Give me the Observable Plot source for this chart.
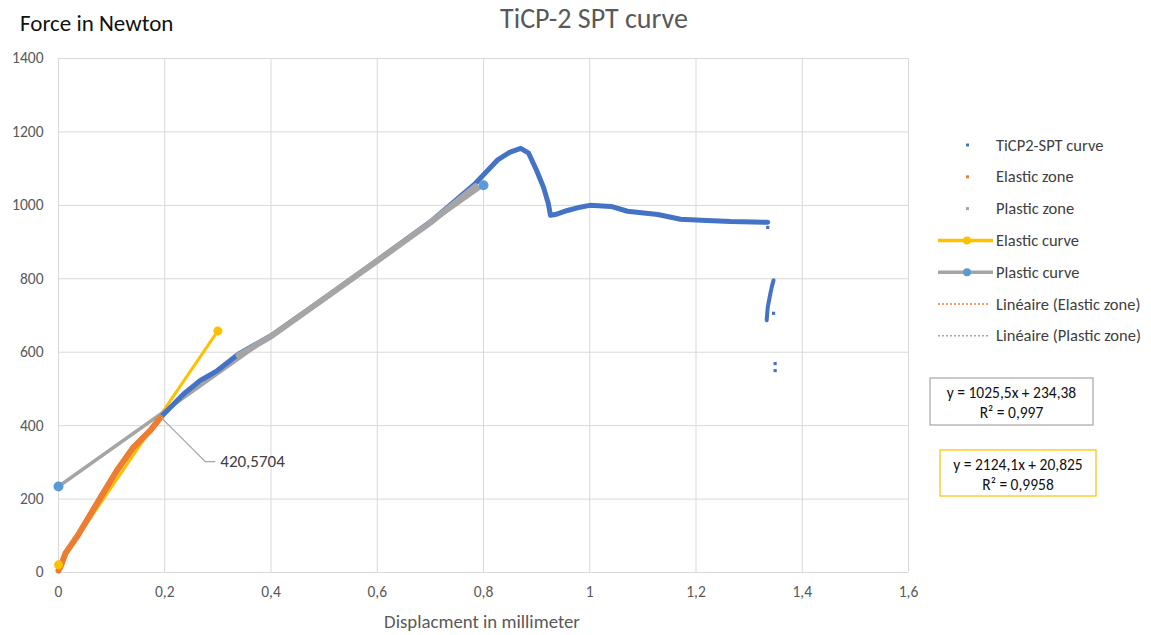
<!DOCTYPE html>
<html><head><meta charset="utf-8">
<script src="https://cdn.jsdelivr.net/npm/d3@7"></script>
<script src="https://cdn.jsdelivr.net/npm/@observablehq/plot@0.6"></script>
<style>
body{margin:0;background:#fff;}
#chart{position:relative;width:1151px;height:635px;}
</style>
</head><body><div id="chart"></div>
<script>
// ---- data ----
// TiCP2-SPT curve (full test record)
const specX = [0, 0.005, 0.013, 0.036, 0.079, 0.11, 0.141, 0.173, 0.192, 0.236, 0.267, 0.299, 0.339, 0.40, 0.50, 0.60, 0.70, 0.785, 0.826, 0.85, 0.87, 0.885, 0.90, 0.913, 0.922, 0.926, 0.935, 0.958, 0.982, 1.0, 1.04, 1.071, 1.128, 1.171, 1.22, 1.265, 1.335];
const specY = [5, 20, 52, 100, 204, 278, 341, 387, 422, 487, 523, 550, 595, 645, 746, 850, 955, 1060, 1123, 1145, 1155, 1142, 1095, 1049, 1005, 973, 975, 986, 995, 1000, 997, 984, 975, 962, 959, 956, 954];
// TiCP2-SPT after rupture
const dropX = [1.333, 1.335, 1.34, 1.343, 1.346];
const dropY = [687, 722, 760, 780, 796];
const dropDotX = [1.335, 1.346, 1.349, 1.349];
const dropDotY = [940, 706, 569, 550];
// Elastic zone subset
const elasticX = [0, 0.005, 0.013, 0.036, 0.079, 0.11, 0.141, 0.173, 0.192];
const elasticY = [5, 20, 52, 100, 204, 278, 341, 387, 422];
// Plastic zone subset
const plasticX = [0.339, 0.40, 0.50, 0.60, 0.70, 0.785];
const plasticY = [592, 643, 746, 849, 953, 1052];
// Elastic curve (fit line endpoints)
const elCurveX = [0, 0.3];
const elCurveY = [20.825, 658.06];
// Plastic curve (fit line endpoints)
const plCurveX = [0, 0.8];
const plCurveY = [234.38, 1054.78];
// Linear trendlines
const elTrendX = [0, 0.192];
const elTrendY = [20.825, 428.6];
const plTrendX = [0.339, 0.785];
const plTrendY = [582.0, 1039.4];
// intersection data label
const labelPoint = {x: 0.1944, y: 420.5704, text: "420,5704"};
// axis ticks
const xTicks = [0, 0.2, 0.4, 0.6, 0.8, 1, 1.2, 1.4, 1.6];
const yTicks = [0, 200, 400, 600, 800, 1000, 1200, 1400];
// text
const titleText = "TiCP-2 SPT curve";
const yTitle = "Force in Newton";
const xTitle = "Displacment in millimeter";
const legendLabels = ["TiCP2-SPT curve", "Elastic zone", "Plastic zone", "Elastic curve", "Plastic curve", "Linéaire (Elastic zone)", "Linéaire (Plastic zone)"];
const eqPlastic = ["y = 1025,5x + 234,38", "R² = 0,997"];
const eqElastic = ["y = 2124,1x + 20,825", "R² = 0,9958"];

const C = {blue:"#4472C4", orange:"#ED7D31", gray:"#A5A5A5", yellow:"#FFC000", lblue:"#5B9BD5", grid:"#D9D9D9", text:"#595959"};
const FONT = "Carlito, Lato, 'Open Sans', sans-serif";

const zip = (xs, ys) => xs.map((x, i) => ({x, y: ys[i]}));
const spec = zip(specX, specY), drop = zip(dropX, dropY), dropDots = zip(dropDotX, dropDotY);
const elastic = zip(elasticX, elasticY), plastic = zip(plasticX, plasticY);
const elCurve = zip(elCurveX, elCurveY), plCurve = zip(plCurveX, plCurveY);
const elTrend = zip(elTrendX, elTrendY), plTrend = zip(plTrendX, plTrendY);
const fmtX = d => d3.format("~g")(d).replace(".", ",");
const fmtY = d => String(d);

const plot = Plot.plot({
  width: 1151, height: 635,
  marginLeft: 58, marginRight: 243, marginTop: 58, marginBottom: 63,
  style: {fontFamily: FONT, fontSize: "15px", color: C.text, background: "#fff", overflow: "visible"},
  x: {domain: [0, 1.6], ticks: xTicks, tickFormat: fmtX},
  y: {domain: [0, 1400], ticks: yTicks, tickFormat: fmtY},
  marks: [
    Plot.gridX(xTicks, {stroke: C.grid, strokeOpacity: 1}),
    Plot.gridY(yTicks, {stroke: C.grid, strokeOpacity: 1}),
    Plot.axisX({ticks: xTicks, tickSize: 0, tickPadding: 13, tickFormat: fmtX, label: null}),
    Plot.axisY({ticks: yTicks, tickSize: 0, tickPadding: 15, tickFormat: fmtY, label: null}),
    Plot.line(elTrend, {x: "x", y: "y", stroke: C.orange, strokeWidth: 2, strokeDasharray: "2,2"}),
    Plot.line(plTrend, {x: "x", y: "y", stroke: C.gray, strokeWidth: 2, strokeDasharray: "2,2"}),
    Plot.line(elCurve, {x: "x", y: "y", stroke: C.yellow, strokeWidth: 3}),
    Plot.line(plCurve, {x: "x", y: "y", stroke: C.gray, strokeWidth: 3.5}),
    Plot.line(spec, {x: "x", y: "y", stroke: C.blue, strokeWidth: 5, curve: "linear"}),
    Plot.line(drop, {x: "x", y: "y", stroke: C.blue, strokeWidth: 4}),
    Plot.dot(dropDots, {x: "x", y: "y", fill: C.blue, symbol: "square", r: 1.8}),
    Plot.line(elastic, {x: "x", y: "y", stroke: C.orange, strokeWidth: 6}),
    Plot.line(plastic, {x: "x", y: "y", stroke: C.gray, strokeWidth: 6}),
    Plot.dot(elCurve, {x: "x", y: "y", fill: C.yellow, r: 4.5}),
    Plot.dot(plCurve, {x: "x", y: "y", fill: C.lblue, r: 5})
  ]
});

document.getElementById("chart").appendChild(plot);
const svg = d3.select(plot);
const sx = plot.scale("x"), sy = plot.scale("y");

// axis tick labels (the only texts so far)
svg.selectAll("text").style("font-size", "15.5px").style("font-family", FONT).attr("fill", C.text);

function addText(x, y, t, size, fill, anchor) {
  return svg.append("text").attr("x", x).attr("y", y).text(t)
    .attr("font-family", FONT).attr("font-size", size).attr("fill", fill)
    .attr("text-anchor", anchor || "start");
}

// data label with leader line
const px = sx.apply(labelPoint.x), py = sy.apply(labelPoint.y);
svg.append("path").attr("d", `M${px},${py} L${px + 44},${py + 44} L${px + 54},${py + 44}`)
  .attr("fill", "none").attr("stroke", C.gray).attr("stroke-width", 1.2);
addText(px + 59, py + 49.5, labelPoint.text, 17, "#404040");

// titles
addText(594, 28, titleText, 28, C.text, "middle");
addText(20, 31, yTitle, 23, "#111");
addText(482, 628, xTitle, 18.8, C.text, "middle");

// legend
const ly0 = 145, ldy = 31.8;
legendLabels.forEach((lab, i) => {
  const y = ly0 + i * ldy;
  if (i < 3) {
    const col = [C.blue, C.orange, C.gray][i];
    svg.append("rect").attr("x", 966).attr("y", y - 1.5).attr("width", 3).attr("height", 3).attr("fill", col);
  } else if (i < 5) {
    const lc = i === 3 ? C.yellow : C.gray, mc = i === 3 ? C.yellow : C.lblue;
    svg.append("line").attr("x1", 938).attr("x2", 993).attr("y1", y).attr("y2", y).attr("stroke", lc).attr("stroke-width", 3.5);
    svg.append("circle").attr("cx", 967).attr("cy", y).attr("r", 4).attr("fill", mc);
  } else {
    const lc = i === 5 ? C.orange : C.gray;
    svg.append("line").attr("x1", 938).attr("x2", 990).attr("y1", y).attr("y2", y).attr("stroke", lc).attr("stroke-width", 1.5).attr("stroke-dasharray", "2,2");
  }
  addText(996, y + 5.5, lab, 16.5, "#404040");
});

// equation boxes
function eqBox(x, y, w, h, stroke, lines) {
  svg.append("rect").attr("x", x).attr("y", y).attr("width", w).attr("height", h)
    .attr("fill", "#fff").attr("stroke", stroke).attr("stroke-width", 1.2);
  lines.forEach((t, i) => addText(x + w / 2, y + 19.5 + i * 20, t, 15.5, "#111", "middle"));
}
eqBox(930, 378, 163, 47, "#A6A6A6", eqPlastic);
eqBox(940, 450, 156, 46, C.yellow, eqElastic);
</script>
</body></html>
